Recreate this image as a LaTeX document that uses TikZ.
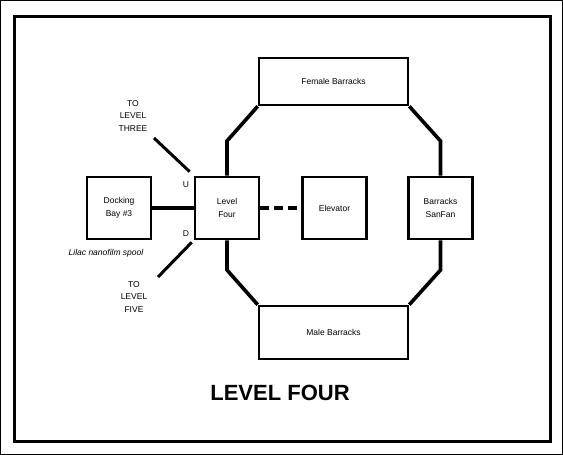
\documentclass[tikz,border=0pt]{standalone}
\usepackage{fontspec}
\setmainfont{Liberation Sans}
\usetikzlibrary{calc}
\begin{document}
\begin{tikzpicture}[x=1pt,y=-1pt,
  box/.style={draw,line width=2.6pt,minimum width=64pt,minimum height=62pt,inner sep=0pt,align=center,font=\fontsize{8.5}{13}\selectfont},
  wide/.style={box,minimum width=149pt},
  thick line/.style={line width=3.6pt},
  lbl/.style={font=\fontsize{8.5}{12.5}\selectfont,align=center,inner sep=0pt}]
\useasboundingbox (0,0) rectangle (563,455);
\draw[line width=1.2pt] (0.6,0.6) rectangle (562.4,454.4);
\draw[line width=3pt] (14.5,16) rectangle (550.5,441);
\node[box] (dock) at (119,208) {Docking\\Bay \#3};
\node[box] (lvl) at (227,208) {Level\\Four};
\node[box] (elev) at (334.5,208) {Elevator};
\node[box] (san) at (440.5,208) {Barracks\\SanFan};
\node[wide,minimum height=47pt] (fem) at (333.5,81.5) {Female Barracks};
\node[wide,minimum height=53pt] (male) at (333.5,332.5) {Male Barracks};
% octagon corridor
\draw[thick line] (fem.south west) -- (227,141) -- (lvl.north);
\draw[thick line] (lvl.south) -- (227,270) -- (male.north west);
\draw[thick line] (fem.south east) -- (440.5,141) -- (san.north);
\draw[thick line] (san.south) -- (440.5,270) -- (male.north east);
% connectors
\draw[thick line] (dock.east) -- (lvl.west);
\draw[thick line,dash pattern=on 9pt off 5pt] (lvl.east) -- (elev.west);
\coordinate (up) at (154,138);
\coordinate (down) at (158,277);
\draw[line width=3pt] (lvl.north west) ++(-4,-4) -- (up);
\draw[line width=3pt] (lvl.south west) ++(-2,2) -- (down);
\node[lbl] (u) at (186,185) {U};
\node[lbl] (d) at (186,234) {D};
\node[lbl] (three) at (133,116) {TO\\LEVEL\\THREE};
\node[lbl] (five) at (134,297) {TO\\LEVEL\\FIVE};
\node[lbl,font=\fontsize{8.5}{10}\selectfont\itshape] (spool) at (106,253) {Lilac nanofilm spool};
\node[inner sep=0pt,font=\fontsize{22}{26}\selectfont\bfseries] (title) at (280,393) {LEVEL FOUR};
\end{tikzpicture}
\end{document}
